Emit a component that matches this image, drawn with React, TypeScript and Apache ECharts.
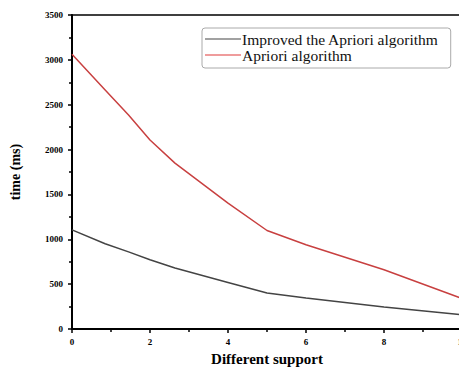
import React, { useEffect, useRef } from "react";
import * as echarts from "echarts";

const supportValues = [0, 0.85, 1.45, 2, 2.64, 4, 5, 6, 8, 10];
const improvedTimes = [1105, 950, 860, 772, 679, 519, 401, 345, 245, 160];
const aprioriTimes = [3062, 2665, 2386, 2107, 1849, 1403, 1098, 939, 660, 340];
const seriesNames = ["Improved the Apriori algorithm", "Apriori algorithm"];

export default function App() {
  const ref = useRef<HTMLDivElement>(null);
  useEffect(() => {
    if (!ref.current) return;
    const chart = echarts.init(ref.current, null, { renderer: "svg" });
    const font = "Liberation Serif";
    chart.setOption({
      animation: false,
      backgroundColor: "#ffffff",
      grid: {
        left: 70,
        top: 15,
        right: 13,
        bottom: 43,
        show: true,
        borderColor: "#000",
        borderWidth: 1.5,
      },
      legend: {
        orient: "vertical",
        left: 202,
        top: 28,
        width: 255,
        padding: [3, 12, 5, 3],
        itemGap: 0,
        itemWidth: 36,
        itemHeight: 16,
        borderColor: "#aaa",
        borderWidth: 1,
        borderRadius: 3,
        icon: "path://M0,0 L36,0 L36,1.2 L0,1.2 Z",
        textStyle: { fontFamily: font, fontSize: 15.5, color: "#111", padding: [0, 0, 0, -4] },
        data: seriesNames,
      },
      xAxis: {
        type: "value",
        min: 0,
        max: 10,
        interval: 2,
        name: "Different support",
        nameLocation: "middle",
        nameGap: 22,
        nameTextStyle: { fontFamily: font, fontWeight: "bold", fontSize: 15, color: "#000" },
        axisLine: { lineStyle: { color: "#000", width: 2 } },
        axisTick: { show: true, length: 4, lineStyle: { color: "#000", width: 1.5 } },
        minorTick: { show: true, splitNumber: 2, length: 3, lineStyle: { color: "#000", width: 1.5 } },
        axisLabel: { fontFamily: font, fontWeight: "bold", fontSize: 9, color: "#000", margin: 8 },
        splitLine: { show: false },
      },
      yAxis: {
        type: "value",
        min: 0,
        max: 3500,
        interval: 500,
        name: "time (ms)",
        nameLocation: "middle",
        nameGap: 50,
        nameTextStyle: { fontFamily: font, fontWeight: "bold", fontSize: 14, color: "#000" },
        axisLine: { show: true, lineStyle: { color: "#000", width: 2 } },
        axisTick: { show: true, length: 4, lineStyle: { color: "#000", width: 1.5 } },
        minorTick: { show: true, splitNumber: 2, length: 3, lineStyle: { color: "#000", width: 1.5 } },
        axisLabel: {
          fontFamily: font,
          fontWeight: "bold",
          fontSize: 9,
          color: "#000",
          margin: 9,
          formatter: (v: number) => String(v),
        },
        splitLine: { show: false },
      },
      series: [
        {
          name: seriesNames[0],
          type: "line",
          data: supportValues.map((x, i) => [x, improvedTimes[i]]),
          showSymbol: false,
          symbol: "none",
          color: "#444",
          lineStyle: { color: "#444", width: 1.5 },
        },
        {
          name: seriesNames[1],
          type: "line",
          data: supportValues.map((x, i) => [x, aprioriTimes[i]]),
          showSymbol: false,
          symbol: "none",
          color: "#e03a3a",
          lineStyle: { color: "#c84040", width: 1.5 },
        },
      ],
    });
    return () => chart.dispose();
  }, []);
  return (
    <div
      ref={ref}
      style={{ position: "fixed", left: 0, top: 0, width: 475, height: 372, background: "#fff" }}
    />
  );
}
